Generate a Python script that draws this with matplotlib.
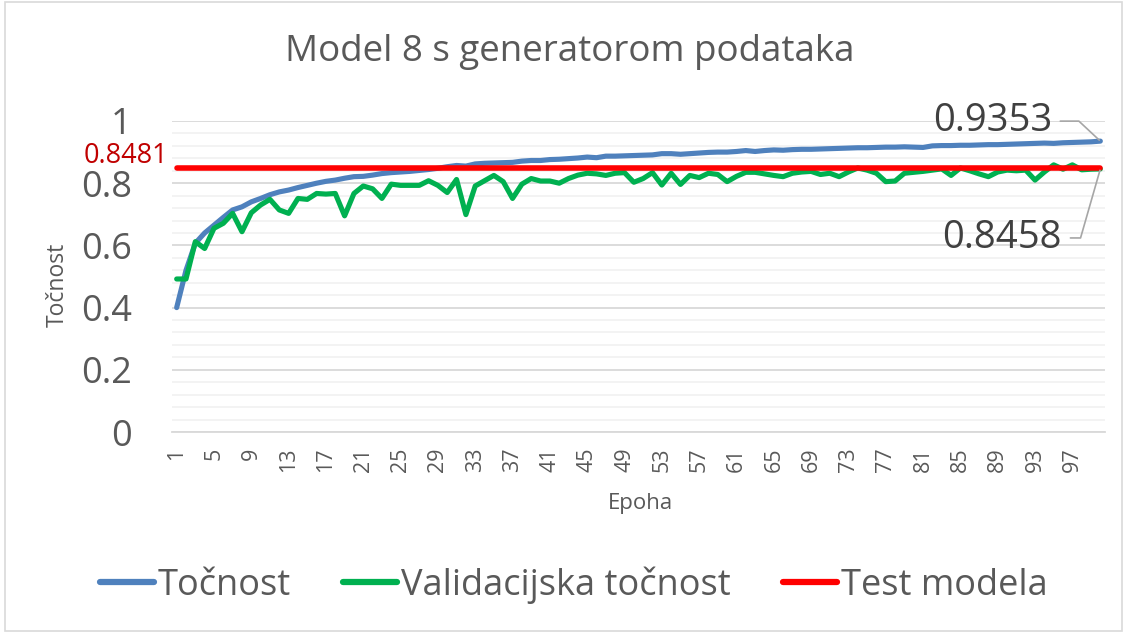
import matplotlib
matplotlib.use("Agg")
import matplotlib.pyplot as plt
import numpy as np

plt.rcParams['font.family'] = ['Open Sans', 'DejaVu Sans']

epochs = list(range(1, 101))
tocnost = [0.400, 0.520, 0.607, 0.640, 0.665, 0.690, 0.714, 0.724, 0.740, 0.751,
           0.763, 0.772, 0.778, 0.786, 0.793, 0.800, 0.806, 0.810, 0.816, 0.821,
           0.822, 0.826, 0.831, 0.834, 0.836, 0.838, 0.841, 0.844, 0.848, 0.853,
           0.857, 0.855, 0.862, 0.864, 0.865, 0.866, 0.867, 0.871, 0.873, 0.873,
           0.876, 0.877, 0.879, 0.881, 0.884, 0.882, 0.887, 0.887, 0.888, 0.889,
           0.890, 0.891, 0.895, 0.895, 0.893, 0.895, 0.897, 0.899, 0.900, 0.900,
           0.902, 0.905, 0.902, 0.905, 0.907, 0.906, 0.908, 0.909, 0.909, 0.910,
           0.911, 0.912, 0.913, 0.914, 0.914, 0.915, 0.916, 0.916, 0.917, 0.916,
           0.915, 0.920, 0.921, 0.921, 0.922, 0.922, 0.923, 0.924, 0.924, 0.925,
           0.926, 0.927, 0.928, 0.929, 0.928, 0.930, 0.931, 0.932, 0.933, 0.9353]
val_tocnost = [0.492, 0.492, 0.612, 0.590, 0.655, 0.671, 0.703, 0.644, 0.705, 0.730,
               0.748, 0.714, 0.703, 0.751, 0.748, 0.767, 0.765, 0.767, 0.695, 0.767,
               0.791, 0.782, 0.751, 0.797, 0.793, 0.793, 0.793, 0.808, 0.793, 0.770,
               0.812, 0.699, 0.791, 0.808, 0.825, 0.805, 0.751, 0.797, 0.815, 0.807,
               0.807, 0.800, 0.815, 0.826, 0.832, 0.830, 0.825, 0.832, 0.834, 0.803,
               0.815, 0.834, 0.794, 0.832, 0.796, 0.825, 0.818, 0.832, 0.828, 0.805,
               0.822, 0.835, 0.835, 0.830, 0.825, 0.821, 0.832, 0.836, 0.838, 0.828,
               0.832, 0.821, 0.836, 0.849, 0.842, 0.832, 0.805, 0.807, 0.832, 0.835,
               0.838, 0.842, 0.846, 0.825, 0.849, 0.840, 0.830, 0.821, 0.836, 0.842,
               0.840, 0.842, 0.810, 0.836, 0.859, 0.845, 0.859, 0.843, 0.845, 0.8458]
test_modela = [0.8481] * 100

title = "Model 8 s generatorom podataka"
ylabel = "Točnost"
xlabel = "Epoha"
series_names = ["Točnost", "Validacijska točnost", "Test modela"]
ytick_vals = [0, 0.2, 0.4, 0.6, 0.8, 1.0]
ytick_labels = ["0", "0.2", "0.4", "0.6", "0.8", "1"]
xtick_vals = list(range(1, 101, 4))

W, H = 1127, 633
fig = plt.figure(figsize=(W / 100, H / 100), dpi=100)
fig.patch.set_facecolor('white')
# outer chart border
fig.patches.append(plt.Rectangle((0.004, 0.003), 0.992, 0.994, transform=fig.transFigure,
                                 fill=False, edgecolor='#D9D9D9', lw=1.2))

ax = fig.add_axes([172 / W, 1 - 432 / H, (1105 - 172) / W, (432 - 121) / H])
ax.set_xlim(0.5, 100.5)
ax.set_ylim(0, 1)

# grid
ax.set_yticks(ytick_vals)
ax.set_yticks(np.arange(0, 1.0001, 0.04), minor=True)
ax.yaxis.grid(True, which='major', color='#D9D9D9', lw=1.3)
ax.yaxis.grid(True, which='minor', color='#F2F2F2', lw=1.3)
ax.set_axisbelow(True)
for s in ['top', 'right', 'left']:
    ax.spines[s].set_visible(False)
ax.spines['bottom'].set_color('#D9D9D9')
ax.spines['bottom'].set_linewidth(1.3)

blue = '#4F81BD'
green = '#00B050'
red = '#FF0000'
l1, = ax.plot(epochs, tocnost, color=blue, lw=3.7, solid_capstyle='round', solid_joinstyle='round', clip_on=False)
l2, = ax.plot(epochs, val_tocnost, color=green, lw=3.7, solid_capstyle='round', solid_joinstyle='round', clip_on=False)
l3, = ax.plot(epochs, test_modela, color=red, lw=4.0, solid_capstyle='round', clip_on=False)

ax.set_yticklabels(ytick_labels, fontsize=26, color='#595959')
ax.tick_params(axis='y', which='both', length=0, pad=29)
ax.set_xticks(xtick_vals)
ax.set_xticklabels([str(v) for v in xtick_vals], rotation=90, fontsize=15.5, color='#595959')
ax.tick_params(axis='x', length=0, pad=11)
ax.tick_params(axis='y', which='minor', length=0)

fig.text(570 / W, 1 - 52 / H, title, ha='center', va='center', fontsize=26.5, color='#595959')
fig.text(58 / W, 1 - 285 / H, ylabel, rotation=90, ha='center', va='center', fontsize=16.5, color='#595959')
fig.text(640 / W, 1 - 503 / H, xlabel, ha='center', va='center', fontsize=16, color='#595959')

# data labels
ax.annotate("0.8481", xy=(epochs[0], test_modela[0]), xytext=(-8, 12), textcoords='offset pixels',
            ha='right', va='center', fontsize=19.5, color='#C00000', annotation_clip=False)
ax.annotate(f"{tocnost[-1]:.4f}", xy=(epochs[-1], tocnost[-1]), xytext=(-108, 20), textcoords='offset pixels',
            ha='center', va='center', fontsize=27.5, color='#404040', annotation_clip=False,
            arrowprops=dict(arrowstyle='-', color='#A6A6A6', lw=1.2, shrinkA=4, shrinkB=1,
                            connectionstyle='angle,angleA=0,angleB=137,rad=0'))
ax.annotate(f"{val_tocnost[-1]:.4f}", xy=(epochs[-1], val_tocnost[-1]), xytext=(-98, -69), textcoords='offset pixels',
            ha='center', va='center', fontsize=27.5, color='#404040', annotation_clip=False,
            arrowprops=dict(arrowstyle='-', color='#A6A6A6', lw=1.2, shrinkA=4, shrinkB=1,
                            connectionstyle='angle,angleA=0,angleB=254,rad=0'))

leg = fig.legend([l1, l2, l3], series_names, loc='center', bbox_to_anchor=(0.5 + 10 / W, 1 - 585 / H),
                 ncol=3, frameon=False, fontsize=26, handlelength=1.5, handletextpad=0.1,
                 columnspacing=1.45, labelcolor='#595959')
for h in leg.get_lines():
    h.set_linewidth(4.5)

fig.savefig('out.png', dpi=100)
